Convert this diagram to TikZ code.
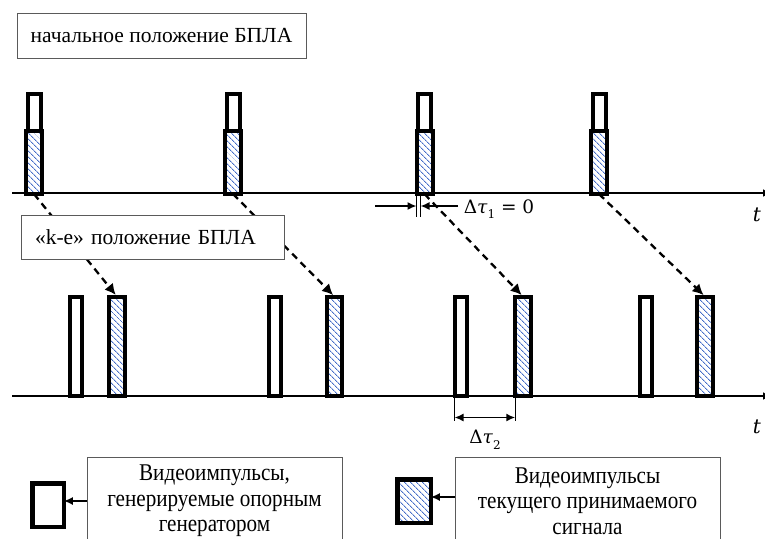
\documentclass[tikz,border=0pt]{standalone}
\usepackage{fontspec}
\setmainfont{Liberation Serif}
\newfontfamily\condserif[FakeStretch=0.88]{Liberation Serif}
\newfontfamily\mathlike{DejaVu Serif}
\usetikzlibrary{arrows.meta,patterns.meta}
\definecolor{hatchblue}{RGB}{70,110,200}
\definecolor{boxgray}{RGB}{90,90,90}
\newcommand{\subidx}[1]{\raisebox{-0.3em}{\fontsize{12}{12}\selectfont #1}}
\tikzset{
  refpulse/.style={draw, line width=4pt, fill=white, inner sep=0pt, outer sep=0pt, anchor=south},
  sigpulse/.style={draw, line width=4pt, inner sep=0pt, outer sep=0pt, anchor=south,
    pattern={Lines[angle=-45,distance=4pt,line width=0.9pt]}, pattern color=hatchblue},
  axisline/.style={line width=2pt, -{Latex[length=8pt,width=8pt]}},
  darrow/.style={line width=2.3pt, dash pattern=on 7pt off 5pt, -{Latex[length=11pt,width=11pt]}, shorten >=2pt},
  labelbox/.style={draw=boxgray, line width=0.8pt, fill=white, inner sep=0pt, outer sep=0pt},
  dimarrow/.style={line width=1.5pt, -{Latex[length=9pt,width=8pt]}},
  dimline/.style={line width=0.9pt},
  legarrow/.style={line width=2pt, -{Latex[length=9pt,width=8pt]}},
  txt/.style={font=\fontsize{21.5}{25}\selectfont},
  legtxt/.style={font=\condserif\fontsize{24}{25.5}\selectfont, align=center},
  mathtxt/.style={font=\mathlike\fontsize{18.5}{22}\selectfont, inner sep=0pt},
}
\begin{document}
\begin{tikzpicture}[x=1pt,y=-1pt]
\useasboundingbox (0,0) rectangle (765,538);
% axes
\coordinate (a1s) at (12,193); \coordinate (a1e) at (771,193);
\coordinate (a2s) at (12,396); \coordinate (a2e) at (771,396);
\draw[axisline] (a1s) -- (a1e);
\draw[axisline] (a2s) -- (a2e);
% top row
\foreach \i/\x in {1/34, 2/233, 3/424.5, 4/599} {
  \node[sigpulse, minimum width=16pt, minimum height=63pt] (s\i) at (\x,194) {};
  \node[refpulse, minimum width=13pt, minimum height=37pt] (r\i) at (\x,131) {};
}
% bottom row
\foreach \i/\x/\y in {1/75.5/117, 2/275/334.5, 3/460.5/523, 4/646/705} {
  \node[refpulse, minimum width=12pt, minimum height=99pt] (w\i) at (\x,395.5) {};
  \node[sigpulse, minimum width=15.5pt, minimum height=99pt] (S\i) at (\y,395.5) {};
}
% dashed arrows
\foreach \i in {1,2,3,4} { \draw[darrow] (s\i.south) -- (S\i.north); }
% label boxes
\node[labelbox, txt, minimum width=289pt, minimum height=45pt] (lab0) at (161.5,35.5) {начальное положение БПЛА};
\node[labelbox, txt, minimum width=263pt, minimum height=44pt, text width=235pt, align=left] (lab1) at (152.5,237) {«k-e» положение БПЛА};
% delta tau 1
\coordinate (d1l) at (375,206); \coordinate (d1r) at (458,206);
\draw[dimline] (s3.south west) -- ++(0,23);
\draw[dimline] ([xshift=4pt]s3.south west) -- ++(0,23);
\draw[dimarrow] (d1l) -- (d1l -| s3.south west);
\draw[dimarrow] (d1r) -- ([xshift=4pt]d1r -| s3.south west);
\node[mathtxt] (dt1) at (499,209) {Δ\textit{τ}\subidx{1} = 0};
\node[mathtxt, font=\mathlike\itshape\fontsize{20}{22}\selectfont] (t1) at (757,215) {t};
% delta tau 2
\draw[dimline] (w3.south west) -- ++(0,25);
\draw[dimline] (S3.south west) -- ++(0,25);
\draw[line width=1.6pt, {Latex[length=9pt,width=8pt]}-{Latex[length=9pt,width=8pt]}] ([yshift=-22pt]w3.south west) -- ([yshift=-22pt]S3.south west);
\node[mathtxt] (dt2) at (485,440) {Δ\textit{τ}\subidx{2}};
\node[mathtxt, font=\mathlike\itshape\fontsize{20}{22}\selectfont] (t2) at (757,427) {t};
% legend
\node[draw, line width=4.5pt, fill=white, inner sep=0pt, outer sep=0pt, minimum width=31.5pt, minimum height=43.5pt] (lg1) at (48,505) {};
\node[draw, line width=4.5pt, inner sep=0pt, outer sep=0pt, minimum width=33.5pt, minimum height=43.5pt,
  pattern={Lines[angle=-45,distance=4pt,line width=0.9pt]}, pattern color=hatchblue] (lg2) at (414,501) {};
\node[labelbox, legtxt, minimum width=255pt, minimum height=88pt] (lg1box) at (214.5,501) {Видеоимпульсы,\\генерируемые опорным\\генератором};
\node[labelbox, legtxt, minimum width=265pt, minimum height=88pt] (lg2box) at (587.5,501) {Видеоимпульсы\\текущего принимаемого\\сигнала};
\draw[legarrow] (lg1box.west) -- (lg1box.west -| lg1.east);
\draw[legarrow] ([yshift=4pt]lg2box.west) -- ([yshift=4pt]lg2box.west -| lg2.east);
\end{tikzpicture}
\end{document}
